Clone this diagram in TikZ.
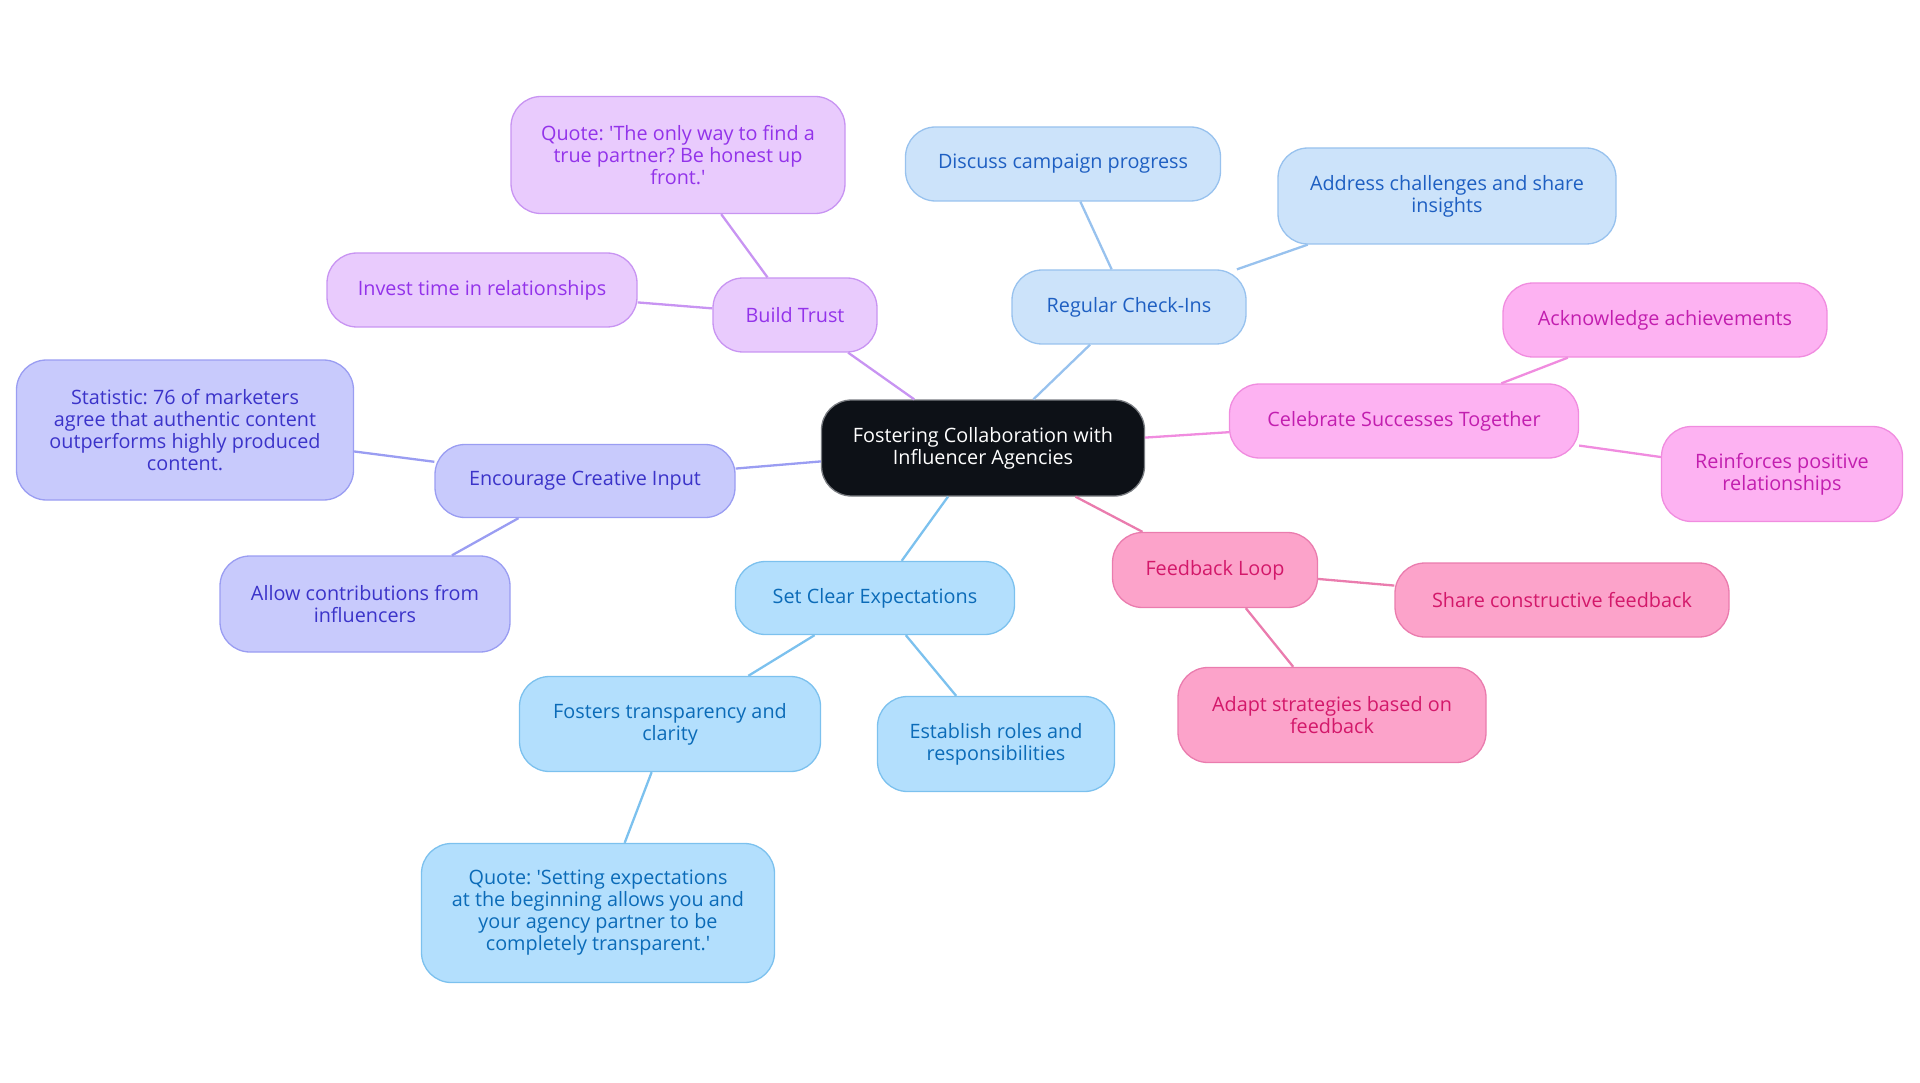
\documentclass[tikz,border=0pt]{standalone}
\usepackage{fontspec}
\setmainfont{Open Sans}
\frenchspacing
\definecolor{pufill}{HTML}{E9CBFD}\definecolor{pudraw}{HTML}{C894F2}\definecolor{putext}{HTML}{9333EA}
\definecolor{infill}{HTML}{C8CAFC}\definecolor{indraw}{HTML}{9A9DF2}\definecolor{intext}{HTML}{3B33C9}
\definecolor{skfill}{HTML}{B3DFFD}\definecolor{skdraw}{HTML}{7CC1EE}\definecolor{sktext}{HTML}{0B6BB8}
\definecolor{blfill}{HTML}{CCE3FA}\definecolor{bldraw}{HTML}{98C2EE}\definecolor{bltext}{HTML}{1E5FC2}
\definecolor{fufill}{HTML}{FDB2F2}\definecolor{fudraw}{HTML}{F08CDF}\definecolor{futext}{HTML}{C21EAF}
\definecolor{pkfill}{HTML}{FCA3CA}\definecolor{pkdraw}{HTML}{EA7CAE}\definecolor{pktext}{HTML}{D3186A}
\definecolor{ctfill}{HTML}{0D1117}\definecolor{ctdraw}{HTML}{7A7D82}
\newcommand{\sq}{\textquotesingle}
\begin{document}
\begin{tikzpicture}[x=1pt,y=-1pt,
  box/.style={rounded corners=30pt, draw, line width=1.3pt, align=center, inner sep=0pt,
    font=\fontsize{19.8}{22}\selectfont},
  pub/.style={box, fill=pufill, draw=pudraw, text=putext},
  inb/.style={box, fill=infill, draw=indraw, text=intext},
  skb/.style={box, fill=skfill, draw=skdraw, text=sktext},
  blb/.style={box, fill=blfill, draw=bldraw, text=bltext},
  fub/.style={box, fill=fufill, draw=fudraw, text=futext},
  pkb/.style={box, fill=pkfill, draw=pkdraw, text=pktext},
  ctb/.style={box, fill=ctfill, draw=ctdraw, text=white},
  link/.style={line width=2.3pt},
  sz/.style 2 args={minimum width=#1pt, minimum height=#2pt}
]
\useasboundingbox (0,0) rectangle (1920,1083);
% center
\node[ctb, sz={323}{96}] (c) at (983,448) {Fostering Collaboration with\\Influencer Agencies};
% purple
\node[pub, sz={164}{74}] (bt) at (795,315) {Build Trust};
\node[pub, sz={334}{117}] (btq) at (678,155) {Quote: \sq The only way to find a\\true partner? Be honest up\\front.\sq};
\node[pub, sz={310}{74}] (bti) at (482,290) {Invest time in relationships};
% indigo
\node[inb, sz={300}{73}] (ec) at (585,481) {Encourage Creative Input};
\node[inb, sz={337}{140}] (ecs) at (185,430) {Statistic: 76 of marketers\\agree that authentic content\\outperforms highly produced\\content.};
\node[inb, sz={290}{96}] (eca) at (365,604) {Allow contributions from\\influencers};
% sky
\node[skb, sz={279}{73}] (se) at (875,598) {Set Clear Expectations};
\node[skb, sz={301}{95}] (sef) at (670,724) {Fosters transparency and\\clarity};
\node[skb, sz={237}{95}] (ser) at (996,744) {Establish roles and\\responsibilities};
\node[skb, sz={353}{139}] (seq) at (598,913) {Quote: \sq Setting expectations\\at the beginning allows you and\\your agency partner to be\\completely transparent.\sq};
% pink
\node[pkb, sz={205}{75}] (fl) at (1215,570) {Feedback Loop};
\node[pkb, sz={334}{74}] (fls) at (1562,600) {Share constructive feedback};
\node[pkb, sz={308}{95}] (fla) at (1332,715) {Adapt strategies based on\\feedback};
% fuchsia
\node[fub, sz={349}{74}] (cs) at (1404,421) {Celebrate Successes Together};
\node[fub, sz={324}{74}] (csa) at (1665,320) {Acknowledge achievements};
\node[fub, sz={241}{95}] (csr) at (1782,474) {Reinforces positive\\relationships};
% blue
\node[blb, sz={234}{74}] (rc) at (1129,307) {Regular Check-Ins};
\node[blb, sz={315}{74}] (rcd) at (1063,164) {Discuss campaign progress};
\node[blb, sz={338}{96}] (rca) at (1447,196) {Address challenges and share\\insights};
% connectors
\draw[link, draw=pudraw] (c) -- (bt);
\draw[link, draw=pudraw] (bt) -- (btq);
\draw[link, draw=pudraw] (bt) -- (bti);
\draw[link, draw=indraw] (c) -- (ec);
\draw[link, draw=indraw] (ec) -- (ecs);
\draw[link, draw=indraw] (ec) -- (eca);
\draw[link, draw=skdraw] (c) -- (se);
\draw[link, draw=skdraw] (se) -- (sef);
\draw[link, draw=skdraw] (se) -- (ser);
\draw[link, draw=skdraw] (sef) -- (seq);
\draw[link, draw=pkdraw] (c) -- (fl);
\draw[link, draw=pkdraw] (fl) -- (fls);
\draw[link, draw=pkdraw] (fl) -- (fla);
\draw[link, draw=fudraw] (c) -- (cs);
\draw[link, draw=fudraw] (cs) -- (csa);
\draw[link, draw=fudraw] (cs) -- (csr);
\draw[link, draw=bldraw] (c) -- (rc);
\draw[link, draw=bldraw] (rc) -- (rcd);
\draw[link, draw=bldraw] (rc) -- (rca);
\end{tikzpicture}
\end{document}
